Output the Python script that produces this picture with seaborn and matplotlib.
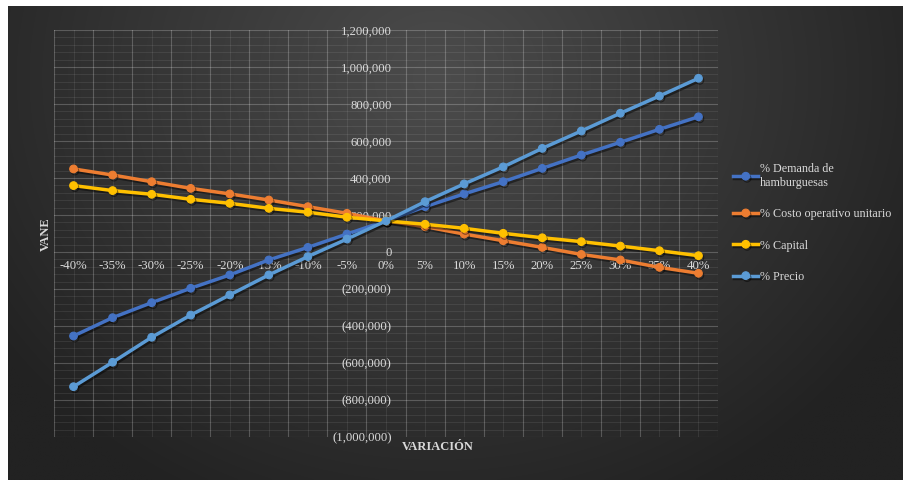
import numpy as np
import pandas as pd
import seaborn as sns
import matplotlib.pyplot as plt
import matplotlib.patheffects as pe
from matplotlib.ticker import FuncFormatter, MultipleLocator

# Datos (VANE segun variacion)
categorias = ['-40%', '-35%', '-30%', '-25%', '-20%', '-15%', '-10%', '-5%', '0%',
              '5%', '10%', '15%', '20%', '25%', '30%', '35%', '40%']
demanda = [-454000, -355000, -274000, -196000, -124000, -43000, 25000, 97000, 168000,
           245000, 314000, 380000, 452000, 524000, 593000, 663000, 731000]
costo = [449000, 416000, 380000, 344000, 314000, 281000, 245000, 209000, 168000,
         137000, 97000, 61000, 25000, -13000, -43000, -83000, -115000]
capital = [359000, 332000, 312000, 285000, 263000, 236000, 215000, 188000, 168000,
           150000, 128000, 101000, 77000, 56000, 32000, 7000, -20000]
precio = [-728000, -596000, -461000, -341000, -232000, -124000, -25000, 70000, 168000,
          272000, 368000, 460000, 560000, 654000, 750000, 843000, 939000]

series = {
    '% Demanda de\nhamburguesas': (demanda, '#4472C4'),
    '% Costo operativo unitario': (costo, '#ED7D31'),
    '% Capital': (capital, '#FFC000'),
    '% Precio': (precio, '#5B9BD5'),
}

plt.rcParams['font.family'] = ['Liberation Serif', 'DejaVu Serif']
txt = '#d9d9d9'

fig = plt.figure(figsize=(9.04, 4.8), dpi=100)
fig.patch.set_facecolor('white')

# fondo con degradado radial
bg = fig.add_axes([8 / 904, 0, 896 / 904, 474 / 480])
gx, gy = np.meshgrid(np.linspace(0, 1, 400), np.linspace(0, 1, 220))
r = np.sqrt(((gx - 0.48) / 0.6) ** 2 + ((gy - 0.15) / 1.0) ** 2)
t = np.clip(r, 0, 1)[..., None]
light = np.array([0x4c, 0x4c, 0x4c]) / 255
dark = np.array([0x22, 0x22, 0x22]) / 255
bg.imshow(light * (1 - t) + dark * t, aspect='auto', interpolation='bilinear')
bg.axis('off')

ax = fig.add_axes([54 / 904, 43 / 480, 664 / 904, 407 / 480])
ax.patch.set_alpha(0)

shadow = [pe.SimpleLineShadow(offset=(1, -1.5), shadow_color='black', alpha=0.45), pe.Normal()]
for nombre, (valores, color) in series.items():
    df = pd.DataFrame({'pos': range(len(categorias)), 'vane': valores})
    sns.lineplot(data=df, x='pos', y='vane', ax=ax, color=color, linewidth=2.5,
                 marker='o', markersize=5.5, markeredgecolor=color, markeredgewidth=0.8,
                 label=nombre, sort=False, path_effects=shadow)

ax.set_xlim(-0.5, len(categorias) - 0.5)
ax.set_ylim(-1000000, 1200000)

# eje x en el cero, eje y entre 0% y 5%
ax.spines['bottom'].set_position(('data', 0))
ax.spines['left'].set_position(('data', 8.5))
for s in ax.spines.values():
    s.set_visible(False)

ax.set_xticks(range(len(categorias)))
ax.set_xticklabels(categorias)
ax.set_xticks(np.arange(-0.5, len(categorias), 1), minor=True)
ax.yaxis.set_major_locator(MultipleLocator(200000))
ax.yaxis.set_minor_locator(MultipleLocator(40000))
ax.yaxis.set_major_formatter(FuncFormatter(
    lambda v, p: f'{v:,.0f}' if v >= 0 else f'({-v:,.0f})'))

ax.tick_params(axis='both', which='both', length=0, colors=txt, labelsize=9.2)
ax.tick_params(axis='x', which='major', pad=6)
ax.tick_params(axis='y', which='major', pad=10)

ax.grid(axis='x', which='minor', color='white', alpha=0.22, linewidth=0.8)
ax.grid(axis='x', which='major', color='white', alpha=0.08, linewidth=0.8)
ax.grid(axis='y', which='major', color='white', alpha=0.22, linewidth=0.8)
ax.grid(axis='y', which='minor', color='white', alpha=0.08, linewidth=0.8)
ax.set_axisbelow(True)

ax.set_xlabel('')
ax.set_ylabel('')
fig.text(46 / 904, 1 - 234 / 480, 'VANE', rotation=90, ha='center', va='center',
         color=txt, fontsize=9, fontweight='bold')
fig.text(438 / 904, 1 - 447 / 480, 'VARIACIÓN', ha='center', va='center',
         color=txt, fontsize=9, fontweight='bold')

leg = ax.legend(loc='upper left', bbox_to_anchor=(727 / 904, 1 - 157 / 480),
                bbox_transform=fig.transFigure, frameon=False, fontsize=8.7,
                handlelength=2.1, handletextpad=0.1, labelspacing=1.6, borderpad=0)
for t_ in leg.get_texts():
    t_.set_color(txt)

fig.savefig('out.png', dpi=100)
